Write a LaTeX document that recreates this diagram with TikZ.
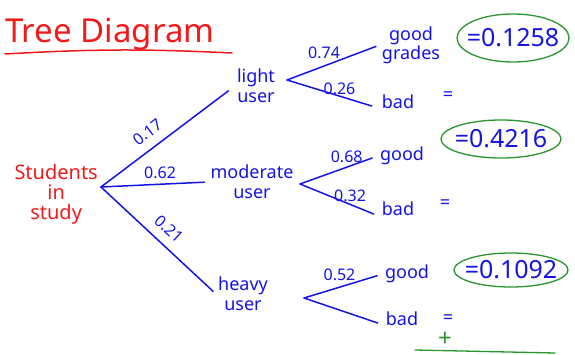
\documentclass[tikz,border=0pt]{standalone}
\usepackage{fontspec}
\setmainfont{Noto Sans}
\usetikzlibrary{positioning,shapes.geometric,calc}
\definecolor{inkRed}{HTML}{F01A1A}
\definecolor{inkBlue}{HTML}{1414E6}
\definecolor{inkGreen}{HTML}{28962D}

\begin{document}
\begin{tikzpicture}[
    x=1pt, y=-1pt,
    titleStyle/.style={text=inkRed, font=\fontsize{33}{35}\selectfont, inner sep=0pt},
    rootStyle/.style={text=inkRed, font=\fontsize{20}{20}\selectfont, align=center, inner sep=1pt},
    catStyle/.style={text=inkBlue, font=\fontsize{18}{20}\selectfont, align=center, inner sep=2pt},
    leafStyle/.style={text=inkBlue, font=\fontsize{18}{14}\selectfont, align=center, inner sep=2pt},
    probStyle/.style={text=inkBlue, font=\fontsize{16}{16}\selectfont, inner sep=2pt},
    answerStyle/.style={
        ellipse, draw=inkGreen, line width=1.3pt, text=inkBlue,
        font=\fontsize{25}{25}\selectfont, inner xsep=-20pt, inner ysep=0pt
    },
    branchStyle/.style={draw=inkBlue, line width=1.5pt, line cap=round},
    redLine/.style={draw=inkRed, line width=1.5pt, line cap=round},
    greenLine/.style={draw=inkGreen, line width=1.3pt, line cap=round}
]
    \useasboundingbox (0,0) rectangle (575,355);

    % Title
    \node[titleStyle, anchor=base west] (title) at (5,43) {Tree Diagram};
    \coordinate (ulStart) at (5,54);
    \coordinate (ulEnd) at (232,53);
    \draw[redLine] (ulStart) to[bend left=3] (ulEnd);

    % Root
    \node[rootStyle, anchor=east] (students) at (99,194) {Students\\in\\study};
    \coordinate (rootFork) at ($(students.east)+(2,-7)$);

    % First level
    \node[catStyle] (light) at (256,86) {light\\user};
    \node[catStyle] (moderate) at (252,182) {moderate\\user};
    \node[catStyle] (heavy) at (243,294) {heavy\\user};

    \draw[branchStyle, shorten >=8pt] (rootFork) -- node[probStyle, sloped, above=7pt, pos=0.42] {0.17} (light.west);
    \draw[branchStyle, shorten >=4pt] (rootFork) -- node[probStyle, above=3pt, pos=0.55] {0.62} (moderate.west);
    \draw[branchStyle, shorten >=4pt] (rootFork) -- node[probStyle, sloped, above=7pt, pos=0.5] {0.21} (heavy.west);

    % Second level
    \coordinate (lightFork) at (287,80);
    \coordinate (modFork) at (300,184);
    \coordinate (heavyFork) at (304,298);

    \node[leafStyle] (goodL) at (411,45) {good\\grades};
    \node[leafStyle] (badL) at (398,102) {bad};
    \node[leafStyle] (goodM) at (402,156) {good};
    \node[leafStyle] (badM) at (398,209) {bad};
    \node[leafStyle] (goodH) at (407,274) {good};
    \node[leafStyle] (badH) at (402,319) {bad};

    \draw[branchStyle, shorten >=4pt] (lightFork) -- node[probStyle, above=5pt, pos=0.4] {0.74} (goodL.west);
    \draw[branchStyle] (lightFork) -- node[probStyle, above=-1pt, pos=0.62] {0.26} ($(badL.west)+(-8,4)$);
    \draw[branchStyle, shorten >=6pt] (modFork) -- node[probStyle, above=2pt, pos=0.6] {0.68} (goodM.west);
    \draw[branchStyle] (modFork) -- node[probStyle, above=0pt, pos=0.68] {0.32} ($(badM.west)+(-6,5)$);
    \draw[branchStyle, shorten >=6pt] (heavyFork) -- node[probStyle, above=4pt, pos=0.45] {0.52} (goodH.west);
    \draw[branchStyle] (heavyFork) -- ($(badH.west)+(-6,4)$);

    % Results
    \node[leafStyle] (eqL) at (448,96) {=};
    \node[leafStyle] (eqM) at (445,204) {=};
    \node[leafStyle] (eqH) at (448,319) {=};

    \node[answerStyle, minimum width=112pt, minimum height=48pt] (ansL) at (513,38) {=0.1258};
    \node[answerStyle, minimum width=120pt, minimum height=38pt] (ansM) at (501,139) {=0.4216};
    \node[answerStyle, minimum width=114pt, minimum height=34pt] (ansH) at (511,270) {=0.1092};

    % Sum
    \node[text=inkGreen, font=\fontsize{24}{24}\selectfont, inner sep=0pt] (plus) at (445,339) {+};
    \coordinate (sumStart) at (415,350);
    \coordinate (sumEnd) at (555,353);
    \draw[greenLine] (sumStart) -- (sumEnd);
\end{tikzpicture}
\end{document}
